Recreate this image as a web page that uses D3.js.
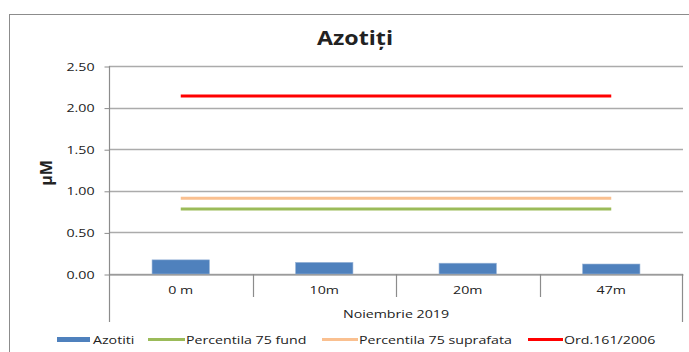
<!DOCTYPE html>
<html>
<head>
<meta charset="utf-8">
<script src="https://cdn.jsdelivr.net/npm/d3@7"></script>
<style>
  html, body { margin: 0; padding: 0; background: #fff; }
  svg { display: block; }
  text { font-family: "Open Sans", sans-serif; fill: #222; }
</style>
</head>
<body>
<svg id="chart" width="689" height="352"></svg>
<script>
// Nitrite concentrations by depth, November 2019
const categories = ["0 m", "10m", "20m", "47m"];
const azotiti = [0.17, 0.14, 0.13, 0.12];
const percentila75Fund = [0.78, 0.78, 0.78, 0.78];
const percentila75Suprafata = [0.91, 0.91, 0.91, 0.91];
const ord161 = [2.14, 2.14, 2.14, 2.14];
const yTicks = [0, 0.5, 1, 1.5, 2, 2.5];
const groupLabel = "Noiembrie 2019";

const svg = d3.select("#chart");
const STRETCH = 1.29;

// Widen glyphs horizontally to get the broad chart lettering
function widen(sel, k = STRETCH) {
  sel.each(function () {
    const len = this.getComputedTextLength();
    d3.select(this).attr("textLength", len * k).attr("lengthAdjust", "spacingAndGlyphs");
  });
  return sel;
}

// Chart frame
svg.append("rect")
  .attr("x", 9.5).attr("y", 14.5)
  .attr("width", 700).attr("height", 400)
  .attr("fill", "none").attr("stroke", "#8c8c8c").attr("stroke-width", 1);

const plot = { left: 109, right: 683, top: 66, bottom: 274 };

const x = d3.scaleBand().domain(categories)
  .range([plot.left, plot.right]).paddingInner(0).paddingOuter(0);
const y = d3.scaleLinear().domain([0, 2.5]).range([plot.bottom, plot.top]);

// Title
svg.append("text")
  .attr("x", 355).attr("y", 45)
  .attr("text-anchor", "middle")
  .style("font-weight", "bold").style("font-size", "20px")
  .attr("fill", "#000")
  .text("Azotiți")
  .call(widen, 1.16);

// Horizontal gridlines
svg.append("g").selectAll("line").data(yTicks).join("line")
  .attr("x1", plot.left).attr("x2", plot.right)
  .attr("y1", d => Math.round(y(d)) + 0.5).attr("y2", d => Math.round(y(d)) + 0.5)
  .attr("stroke", "#ababab").attr("stroke-width", 1.3);

// Y axis
const yAxis = d3.axisLeft(y).tickValues(yTicks).tickFormat(d3.format(".2f"))
  .tickSize(5).tickPadding(10);
const gy = svg.append("g")
  .attr("transform", `translate(${plot.left + 0.5},0.5)`)
  .call(yAxis);
gy.select(".domain").remove();
gy.selectAll(".tick line").attr("stroke", "#8c8c8c");
gy.selectAll(".tick text")
  .style("font-size", "11px").style("font-family", "'Open Sans', sans-serif")
  .attr("fill", "#222")
  .call(widen);
svg.append("line")
  .attr("x1", plot.left + 0.5).attr("x2", plot.left + 0.5)
  .attr("y1", plot.top).attr("y2", 322)
  .attr("stroke", "#8c8c8c").attr("stroke-width", 1.2);

// Y axis title
svg.append("text")
  .attr("transform", "translate(52,173) rotate(-90)")
  .attr("text-anchor", "middle")
  .style("font-weight", "bold").style("font-size", "16px")
  .attr("fill", "#000")
  .text("µM");

// Bars
svg.append("g").selectAll("rect").data(azotiti).join("rect")
  .attr("x", (d, i) => x(categories[i]) + x.bandwidth() * 0.3)
  .attr("width", x.bandwidth() * 0.4)
  .attr("y", d => y(d))
  .attr("height", d => y(0) - y(d))
  .attr("fill", "#4f81bd")
  .attr("stroke", "#9bb6d8").attr("stroke-width", 0.6);

// Category axis: baseline, separators and labels
const xAxis = d3.axisBottom(x).tickSize(0).tickPadding(12);
const gx = svg.append("g")
  .attr("transform", `translate(0,${plot.bottom + 0.5})`)
  .call(xAxis);
gx.select(".domain").attr("stroke", "#8c8c8c").attr("stroke-width", 1.2);
gx.selectAll(".tick text")
  .style("font-size", "11px").style("font-family", "'Open Sans', sans-serif")
  .attr("fill", "#222")
  .call(widen);

const seps = categories.slice(1).map(c => x(c));
svg.append("g").selectAll("line").data(seps).join("line")
  .attr("x1", d => Math.round(d) + 0.5).attr("x2", d => Math.round(d) + 0.5)
  .attr("y1", plot.bottom).attr("y2", 297)
  .attr("stroke", "#8c8c8c").attr("stroke-width", 1.2);
svg.append("line")
  .attr("x1", plot.right - 0.5).attr("x2", plot.right - 0.5)
  .attr("y1", plot.bottom).attr("y2", 322)
  .attr("stroke", "#8c8c8c").attr("stroke-width", 1.2);

svg.append("text")
  .attr("x", (plot.left + plot.right) / 2).attr("y", 318)
  .attr("text-anchor", "middle")
  .style("font-size", "11px")
  .text(groupLabel)
  .call(widen);

// Reference lines
const lineSeries = [
  { name: "Percentila 75 fund", values: percentila75Fund, color: "#9bbb59" },
  { name: "Percentila 75 suprafata", values: percentila75Suprafata, color: "#fac090" },
  { name: "Ord.161/2006", values: ord161, color: "#ff0000" }
];
const line = d3.line()
  .x((d, i) => x(categories[i]) + x.bandwidth() / 2)
  .y(d => y(d));
svg.append("g").selectAll("path").data(lineSeries).join("path")
  .attr("d", s => line(s.values))
  .attr("fill", "none")
  .attr("stroke", s => s.color)
  .attr("stroke-width", 3);

// Legend
const legend = svg.append("g");
legend.append("rect")
  .attr("x", 57).attr("y", 337).attr("width", 33).attr("height", 5)
  .attr("fill", "#4f81bd");
legend.append("text").attr("x", 93).attr("y", 343.5)
  .style("font-size", "11px").text("Azotiti")
  .call(widen);

const legendPos = [
  { sx: 148, tx: 186 },
  { sx: 322, tx: 359 },
  { sx: 528, tx: 564 }
];
lineSeries.forEach((s, i) => {
  const p = legendPos[i];
  legend.append("line")
    .attr("x1", p.sx).attr("x2", p.tx - 1)
    .attr("y1", 339.5).attr("y2", 339.5)
    .attr("stroke", s.color).attr("stroke-width", 3);
  legend.append("text").attr("x", p.tx).attr("y", 343.5)
    .style("font-size", "11px").text(s.name)
    .call(widen);
});
</script>
</body>
</html>
